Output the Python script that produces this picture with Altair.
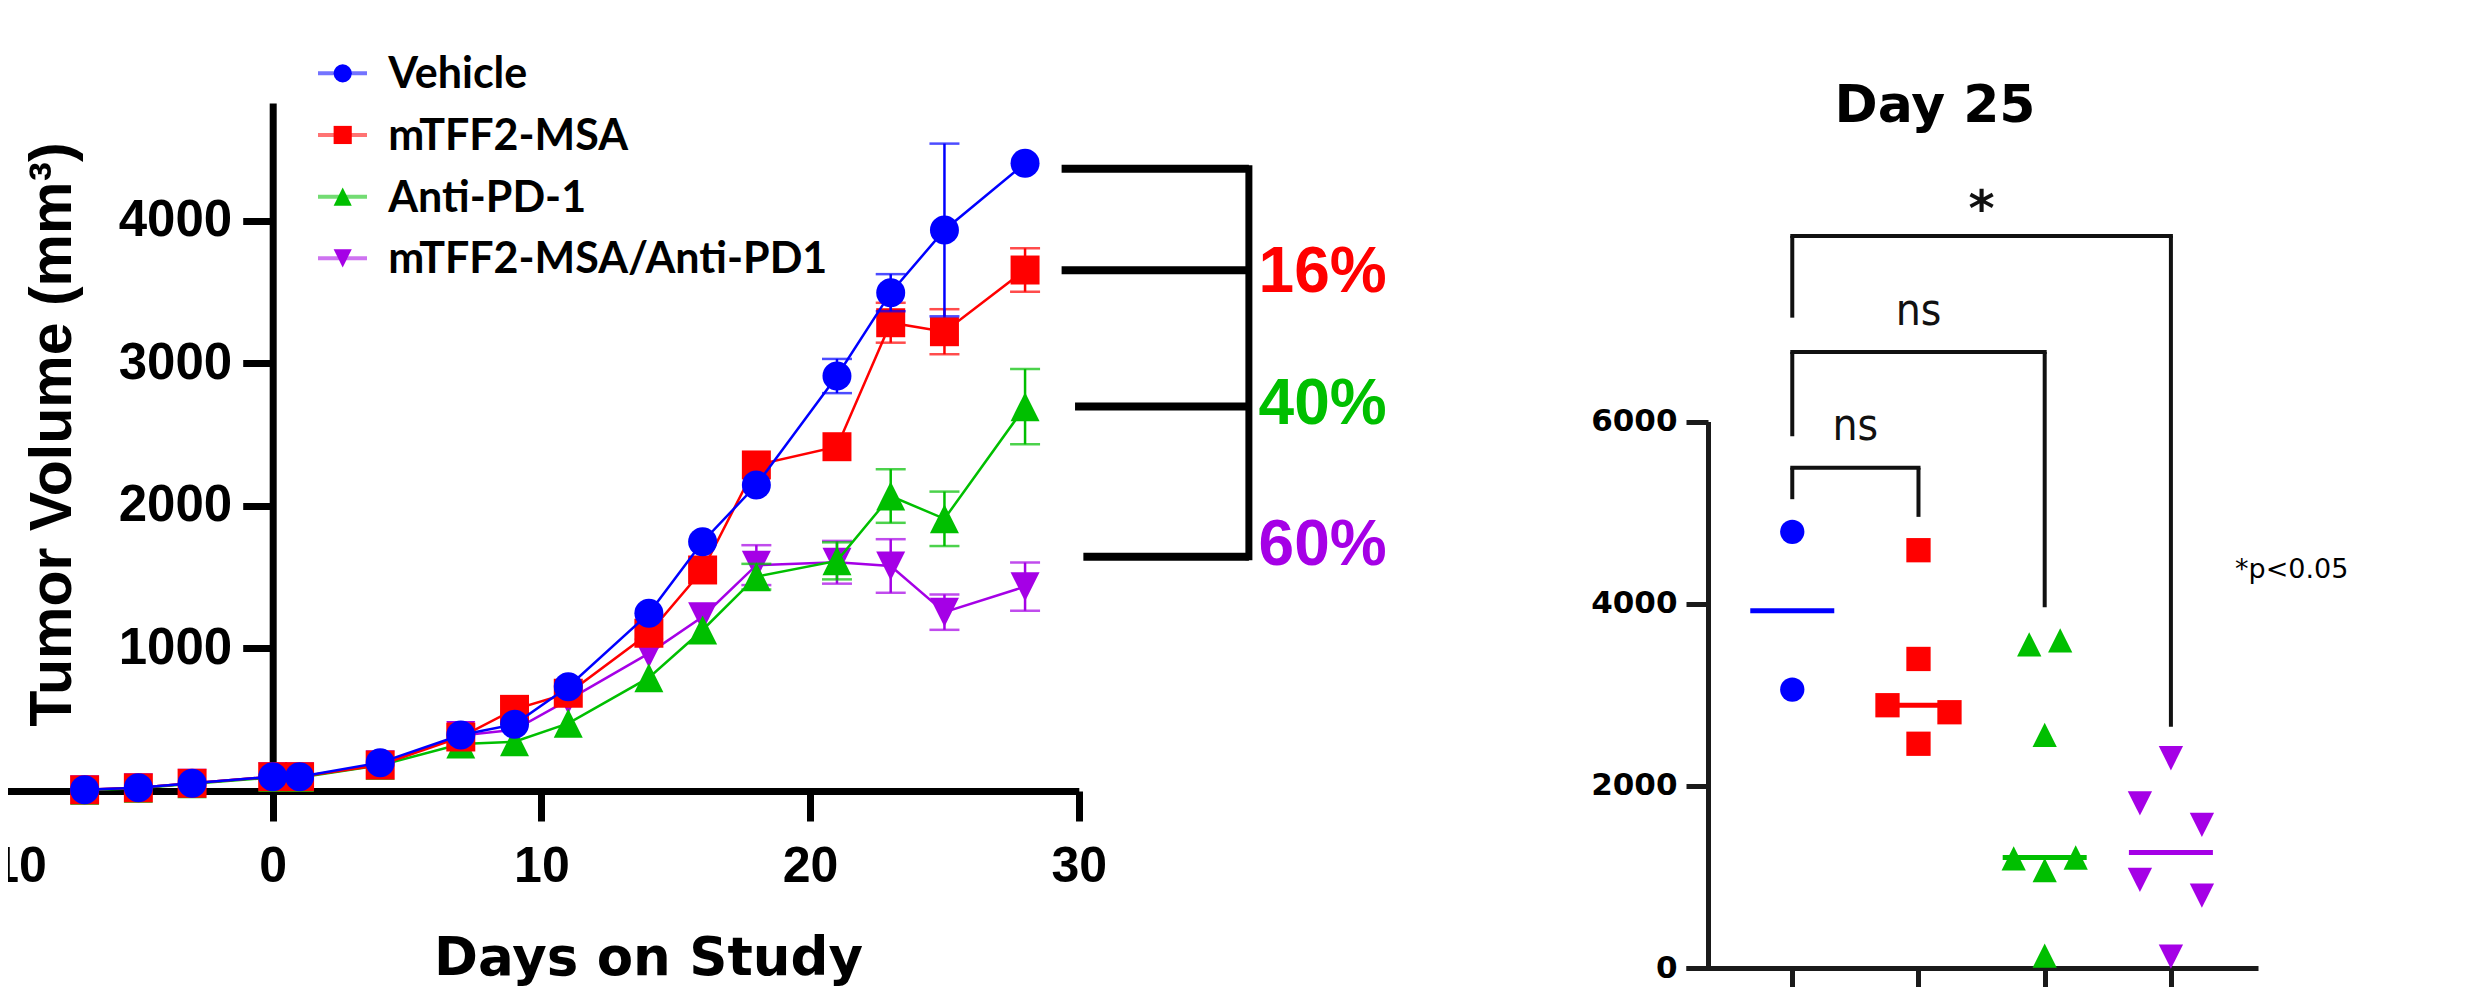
import altair as alt
import pandas as pd

# ---------------- data ----------------
days = [-7, -5, -3, 0, 1, 4, 7, 9, 11, 14, 16, 18, 21, 23, 25, 28]
series_names = ["Vehicle", "mTFF2-MSA", "Anti-PD-1", "mTFF2-MSA/Anti-PD1"]
series_colors = ["#0000FF", "#FF0000", "#00BF00", "#A500E6"]
series_shapes = ["circle", "square", "M0,-1L1,1L-1,1Z", "M-1,-1L1,-1L0,1Z"]

vehicle_mean = [8, 22, 54, 100, 100, 199, 393, 468, 732, 1247, 1749, 2147, 2912, 3497, 3937, 4405]
vehicle_sem = [0, 0, 0, 0, 0, 0, 0, 0, 0, 0, 0, 0, 120, 130, 606, 0]
msa_mean = [8, 22, 54, 100, 100, 182, 379, 573, 686, 1107, 1551, 2288, 2416, 3286, 3223, 3656]
msa_sem = [0, 0, 0, 0, 0, 0, 0, 0, 0, 0, 0, 0, 0, 140, 158, 152]
pd1_mean = [5, 20, 50, 95, 95, 180, 330, 346, 475, 795, 1130, 1504, 1615, 2070, 1910, 2697]
pd1_sem = [0, 0, 0, 0, 0, 0, 0, 0, 0, 0, 0, 90, 130, 188, 191, 264]
combo_mean = [8, 22, 54, 100, 100, 185, 390, 430, 640, 966, 1223, 1585, 1605, 1579, 1255, 1434]
combo_sem = [0, 0, 0, 0, 0, 0, 0, 0, 0, 0, 0, 140, 150, 188, 124, 169]

# reduction brackets (left panel)
bracket_vals = [4367, 3655, 2699, 1643]
bracket_start_day = [29.36, 29.36, 29.86, 30.17]
bracket_end_day = 36.33
pct_labels = ["16%", "40%", "60%"]
pct_series = ["mTFF2-MSA", "Anti-PD-1", "mTFF2-MSA/Anti-PD1"]
pct_baseline = [3500, 2577, 1585]
pct_day = 36.69

# Day 25 scatter (right panel)
d25_series = (["Vehicle"] * 2 + ["mTFF2-MSA"] * 5 + ["Anti-PD-1"] * 7
              + ["mTFF2-MSA/Anti-PD1"] * 6)
d25_values = [4789, 3057,
              4587, 3393, 2885, 2808, 2462,
              3553, 3596, 2560, 1204, 1075, 1213, 135,
              2303, 1808, 1571, 967, 795, 126]
d25_slot = [0, 0,
            0, 0, -1, 1, 0,
            -0.5, 0.5, 0, -1, 0, 1, 0,
            0, -1, 1, -1, 1, 0]

# significance brackets (right panel)
cmp_from = [0, 0, 0]
cmp_to = [1, 2, 3]
cmp_top = [5492, 6762, 8036]
cmp_left_end = [5147, 5838, 7140]
cmp_right_end = [4953, 3962, 2648]
cmp_label = ["ns", "ns", "*"]
cmp_label_base = [5800, 7058, 8145]

# ---------------- tables ----------------
means = dict(zip(series_names, [vehicle_mean, msa_mean, pd1_mean, combo_mean]))
sems = dict(zip(series_names, [vehicle_sem, msa_sem, pd1_sem, combo_sem]))
rows = []
for name in series_names:
    for d, m, s in zip(days, means[name], sems[name]):
        rows.append(dict(series=name, day=d, mean=m, sem=s, lo=m - s, hi=m + s))
left_df = pd.DataFrame(rows)

brk_df = pd.DataFrame({"val": bracket_vals, "start": bracket_start_day,
                       "end": [bracket_end_day] * len(bracket_vals)})
vert_df = pd.DataFrame({"end": [bracket_end_day], "top": [max(bracket_vals)],
                        "bottom": [min(bracket_vals)]})
pct_df = pd.DataFrame({"label": pct_labels, "series": pct_series,
                       "y": pct_baseline, "day": [pct_day] * 3})

right_df = pd.DataFrame({"series": d25_series, "value": d25_values, "slot": d25_slot,
                         "gidx": [series_names.index(s) for s in d25_series]})
cmp_df = pd.DataFrame({"from": cmp_from, "to": cmp_to, "top": cmp_top,
                       "left_end": cmp_left_end, "right_end": cmp_right_end,
                       "label": cmp_label, "label_y": cmp_label_base,
                       "mid": [(a + b) / 2 for a, b in zip(cmp_from, cmp_to)]})
leg_df = pd.DataFrame({"series": series_names, "row": list(range(len(series_names)))})

# ---------------- scales & axes ----------------
COL = alt.Color("series:N", scale=alt.Scale(domain=series_names, range=series_colors), legend=None)
SHP = alt.Shape("series:N", scale=alt.Scale(domain=series_names, range=series_shapes), legend=None)

xL = alt.Scale(domain=[-10, 30], range=[-4, 1070.8], nice=False, zero=False)
yL = alt.Scale(domain=[0, 4828], range=[783, 95], nice=False, zero=False)
axXL = alt.Axis(orient="bottom", offset=-196, values=[-10, 0, 10, 20, 30], format="d", grid=False,
                domainColor="black", domainWidth=7, tickColor="black", tickWidth=7, tickSize=30,
                labelFont="Liberation Sans", labelFontWeight="bold", labelFontSize=50,
                labelColor="black", labelPadding=20, labelFlush=False, labelOverlap=False,
                title="Days on Study", titleFont="DejaVu Sans", titleFontWeight="bold",
                titleFontSize=53, titleColor="black", titleX=640, titleY=183,
                titleAlign="center", titleBaseline="alphabetic")
axYL = alt.Axis(orient="left", offset=-264.7, values=[1000, 2000, 3000, 4000], format="d",
                grid=False, domainColor="black", domainWidth=7, tickColor="black", tickWidth=7,
                tickSize=30, labelFont="Liberation Sans", labelFontWeight="bold", labelFontSize=51,
                labelColor="black", labelPadding=11,
                title="Tumor Volume (mm³)", titleFont="Liberation Sans", titleFontWeight="bold",
                titleFontSize=59, titleColor="black", titleX=-202.7, titleY=426,
                titleAngle=270, titleAlign="center", titleBaseline="alphabetic")


def XL(f):
    return alt.X(f, type="quantitative", scale=xL, axis=axXL)


def YL(f, **kw):
    return alt.Y(f, type="quantitative", scale=yL, axis=axYL, **kw)


xR = alt.Scale(domain=[-0.842, 3.69], range=[1678, 2250], nice=False, zero=False)
yR = alt.Scale(domain=[0, 6000], range=[960, 413.5], nice=False, zero=False)
axXR = alt.Axis(orient="bottom", offset=-19, values=[0, 1, 2, 3], labels=False, title=None,
                grid=False, domainColor="#1a1a1a", domainWidth=5, tickColor="#1a1a1a",
                tickWidth=5, tickSize=30)
axYR = alt.Axis(orient="left", offset=-1700, values=[0, 2000, 4000, 6000], format="d",
                grid=False, domainColor="#1a1a1a", domainWidth=5, tickColor="#1a1a1a",
                tickWidth=5, tickSize=22, labelFont="DejaVu Sans", labelFontWeight="bold",
                labelFontSize=31, labelColor="black", labelPadding=9, title=None)


def XR(f):
    return alt.X(f, type="quantitative", scale=xR, axis=axXR)


def YR(f, **kw):
    return alt.Y(f, type="quantitative", scale=yR, axis=axYR, **kw)


# ---------------- left panel ----------------
left_layers = []
for name in ["mTFF2-MSA/Anti-PD1", "Anti-PD-1", "mTFF2-MSA", "Vehicle"]:
    base = alt.Chart(left_df).transform_filter(alt.datum.series == name)
    errbase = base.transform_filter("datum.sem > 0")
    left_layers += [
        base.mark_line(strokeWidth=2.5).encode(x=XL("day"), y=YL("mean"), color=COL),
        errbase.mark_rule(strokeWidth=2.5).encode(x=XL("day"), y=YL("lo"), y2="hi", color=COL),
        errbase.mark_tick(orient="horizontal", size=30, thickness=2.5).encode(
            x=XL("day"), y=YL("lo"), color=COL),
        errbase.mark_tick(orient="horizontal", size=30, thickness=2.5).encode(
            x=XL("day"), y=YL("hi"), color=COL),
        base.mark_point(filled=True, opacity=1, size=840, strokeWidth=0).encode(
            x=XL("day"), y=YL("mean"), color=COL, shape=SHP),
    ]

brk_h = alt.Chart(brk_df).mark_rule(strokeWidth=8, color="black").encode(
    x=XL("start"), x2="end", y=YL("val"))
brk_v = alt.Chart(vert_df).mark_rule(strokeWidth=7, color="black", strokeCap="square").encode(
    x=XL("end"), y=YL("top"), y2="bottom")
pct_txt = alt.Chart(pct_df).mark_text(font="Liberation Sans", fontWeight="bold", fontSize=64,
                                      align="left", baseline="alphabetic").encode(
    x=XL("day"), y=YL("y"), text="label:N", color=COL)

left = alt.layer(*left_layers, brk_h, brk_v, pct_txt)

# ---------------- right panel ----------------
rbase = alt.Chart(right_df)
r_pts = rbase.transform_calculate(xpos="datum.gidx + datum.slot * 0.2456").mark_point(
    filled=True, opacity=1, size=590, strokeWidth=0).encode(
    x=XR("xpos"), y=YR("value"), color=COL, shape=SHP)
r_med = rbase.mark_tick(orient="horizontal", size=84, thickness=5).encode(
    x=XR("gidx"), y=YR("value", aggregate="median"), color=COL)

cbase = alt.Chart(cmp_df)
c_h = cbase.mark_rule(strokeWidth=4, color="#111111", strokeCap="square").encode(
    x=XR("from"), x2="to", y=YR("top"))
c_l = cbase.mark_rule(strokeWidth=4, color="#111111").encode(
    x=XR("from"), y=YR("top"), y2="left_end")
c_r = cbase.mark_rule(strokeWidth=4, color="#111111").encode(
    x=XR("to"), y=YR("top"), y2="right_end")
c_ns = cbase.transform_filter("datum.label != '*'").mark_text(
    font="DejaVu Sans Condensed", fontSize=44, baseline="alphabetic", align="center",
    color="#111111").encode(x=XR("mid"), y=YR("label_y"), text="label:N")
c_star = cbase.transform_filter("datum.label == '*'").mark_text(
    font="DejaVu Sans", fontWeight="bold", fontSize=50, baseline="alphabetic", align="center",
    color="#111111").encode(x=XR("mid"), y=YR("label_y"), text="label:N")

right = alt.layer(c_h, c_l, c_r, c_ns, c_star, r_med, r_pts)

# ---------------- legend (left panel) ----------------
yLeg = alt.Scale(domain=[0, 3], range=[65.3, 250.3], nice=False, zero=False)
lbase = alt.Chart(leg_df)
leg = alt.layer(
    lbase.mark_rule(strokeWidth=4, opacity=0.55).encode(
        x=alt.value(310), x2=alt.value(359), y=alt.Y("row:Q", scale=yLeg, axis=None), color=COL),
    lbase.mark_point(filled=True, opacity=1, size=330, strokeWidth=0).encode(
        x=alt.value(334.7), y=alt.Y("row:Q", scale=yLeg, axis=None), color=COL, shape=SHP),
    lbase.mark_text(align="left", baseline="alphabetic", dy=15, font="Lato", fontWeight="bold",
                    fontSize=43, color="black").encode(
        x=alt.value(380.3), y=alt.Y("row:Q", scale=yLeg, axis=None), text="series:N"),
)

# ---------------- free text ----------------
title_df = pd.DataFrame({"t": ["Day 25"]})
note_df = pd.DataFrame({"t": ["*p<0.05"]})
day_title = alt.Chart(title_df).mark_text(font="DejaVu Sans", fontWeight="bold", fontSize=52,
                                          align="center", baseline="alphabetic",
                                          color="black").encode(
    x=alt.value(1927), y=alt.value(113.7), text="t:N")
note = alt.Chart(note_df).mark_text(font="DejaVu Sans", fontSize=27, align="left",
                                    baseline="alphabetic", color="black").encode(
    x=alt.value(2227), y=alt.value(570.3), text="t:N")

chart = alt.layer(left, right, leg, day_title, note).resolve_scale(
    x="independent", y="independent").properties(
    width=2458, height=979, autosize=alt.AutoSizeParams(type="none"), padding=0
).configure_view(stroke=None)

chart.save("out.html", embed_options={"renderer": "svg", "actions": False})
